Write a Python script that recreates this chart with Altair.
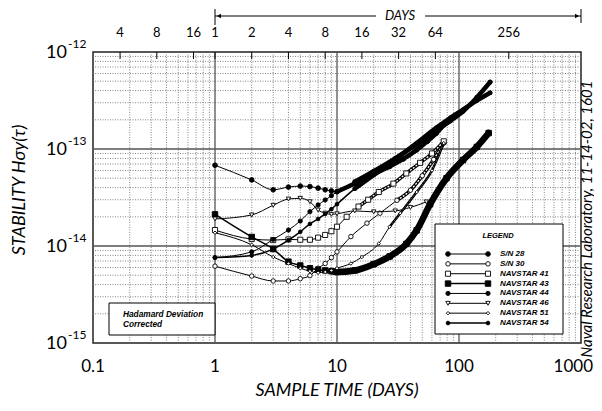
import altair as alt
import pandas as pd

# ---------------- data ----------------
SERIES = ["S/N 28", "S/N 30", "NAVSTAR 41", "NAVSTAR 43",
          "NAVSTAR 44", "NAVSTAR 46", "NAVSTAR 51", "NAVSTAR 54"]

SN28_TAU = [1, 2, 3, 4, 5, 6, 7, 8, 9, 10, 14, 20, 27, 35, 45, 55, 65, 75]
SN28_VAL = [6.8e-14, 4.8e-14, 3.8e-14, 4.05e-14, 4.15e-14, 4.1e-14, 3.95e-14, 3.8e-14, 3.7e-14,
            3.63e-14, 4.4e-14, 5.5e-14, 6.6e-14, 7.9e-14, 9.8e-14, 1.2e-13, 1.45e-13, 1.77e-13]

SN30_TAU = [1, 2, 3, 4, 5, 6, 7, 8, 9, 10, 13, 17.6, 22.5, 31, 40, 50, 62, 75]
SN30_VAL = [6.2e-15, 4.9e-15, 4.36e-15, 4.36e-15, 4.6e-15, 4.95e-15, 5.9e-15, 6.6e-15, 7.6e-15,
            8.7e-15, 1.25e-14, 1.72e-14, 2.18e-14, 2.96e-14, 3.76e-14, 5.3e-14, 7.8e-14, 1.15e-13]

N41_TAU = [1, 2, 3, 4, 5, 6, 7, 8, 9, 10, 12, 15, 18, 22, 29, 37, 48, 60, 75]
N41_VAL = [1.46e-14, 1.18e-14, 1.15e-14, 1.17e-14, 1.16e-14, 1.16e-14, 1.22e-14, 1.3e-14, 1.42e-14,
           1.58e-14, 2.0e-14, 2.55e-14, 3.0e-14, 3.6e-14, 4.4e-14, 5.6e-14, 7.2e-14, 9.0e-14, 1.2e-13]

N43_TAU = [1, 2, 3, 4, 5, 6, 7, 8, 9, 10, 14, 20, 27, 37, 45, 58, 79, 108, 140, 175]
N43_VAL = [2.12e-14, 1.24e-14, 9.3e-15, 6.9e-15, 6.3e-15, 5.9e-15, 5.7e-15, 5.6e-15, 5.5e-15,
           5.4e-15, 5.6e-15, 6.5e-15, 7.8e-15, 1.05e-14, 1.45e-14, 2.7e-14, 5.0e-14, 7.7e-14,
           1.05e-13, 1.46e-13]

N44_TAU = [1, 2, 3, 4, 5, 6, 7, 8, 9, 10, 14, 20, 30, 45, 65, 85, 108, 140, 180]
N44_VAL = [7.6e-15, 8.7e-15, 1.17e-14, 1.46e-14, 1.81e-14, 2.26e-14, 2.65e-14, 2.98e-14, 3.3e-14,
           3.63e-14, 4.6e-14, 5.9e-14, 8.0e-14, 1.12e-13, 1.55e-13, 1.95e-13, 2.45e-13, 3.4e-13, 4.9e-13]

N46_TAU = [1, 2, 3, 4, 5, 6, 7, 8, 9, 10, 14, 20, 30, 40, 54]
N46_VAL = [1.9e-14, 2.09e-14, 2.63e-14, 3.05e-14, 3.1e-14, 2.86e-14, 2.35e-14, 2.18e-14, 2.12e-14,
           2.15e-14, 2.3e-14, 2.25e-14, 2.3e-14, 2.5e-14, 2.85e-14]

N51_TAU = [1, 2, 3, 4, 5, 6, 7, 8, 9, 10, 13, 16, 22, 27, 33, 45, 60, 75]
N51_VAL = [1.37e-14, 1.03e-14, 7.7e-15, 6.6e-15, 5.9e-15, 5.5e-15, 5.3e-15, 5.4e-15, 5.6e-15,
           5.9e-15, 6.6e-15, 7.7e-15, 1.06e-14, 1.58e-14, 2.18e-14, 3.6e-14, 6.0e-14, 1.15e-13]

N54_TAU = [1, 2, 3, 4, 5, 6, 7, 8, 9, 10, 14, 20, 30, 45, 65, 85, 108, 140, 180]
N54_VAL = [7.6e-15, 8.0e-15, 9.3e-15, 1.15e-14, 1.4e-14, 1.69e-14, 1.9e-14, 2.14e-14, 2.4e-14,
           2.7e-14, 3.9e-14, 5.4e-14, 7.8e-14, 1.15e-13, 1.65e-13, 2.1e-13, 2.55e-13, 3.15e-13, 3.8e-13]

DATA = {
    "S/N 28": (SN28_TAU, SN28_VAL), "S/N 30": (SN30_TAU, SN30_VAL),
    "NAVSTAR 41": (N41_TAU, N41_VAL), "NAVSTAR 43": (N43_TAU, N43_VAL),
    "NAVSTAR 44": (N44_TAU, N44_VAL), "NAVSTAR 46": (N46_TAU, N46_VAL),
    "NAVSTAR 51": (N51_TAU, N51_VAL), "NAVSTAR 54": (N54_TAU, N54_VAL),
}

X_TICKS = [0.1, 1, 10, 100, 1000]
X_TICK_LABELS = ["0.1", "1", "10", "100", "1000"]
Y_TICKS = [1e-12, 1e-13, 1e-14, 1e-15]
Y_EXPONENTS = ["-12", "-13", "-14", "-15"]
TOP_DAYS = [4 / 24, 8 / 24, 16 / 24, 1, 2, 4, 8, 16, 32, 64, 256]
TOP_LABELS = ["4", "8", "16", "1", "2", "4", "8", "16", "32", "64", "256"]

# ---------------- styles ----------------
FONT = "Lato"
STYLE = {
    "S/N 28":     dict(shape="circle", fill="black", size=22, tail=10, tw=4.5, open=False, lw=1),
    "S/N 30":     dict(shape="circle", fill="white", size=20, tail=25, tw=3.5, open=True, lw=1),
    "NAVSTAR 41": dict(shape="square", fill="white", size=26, tail=14, tw=3.5, open=True, lw=1),
    "NAVSTAR 43": dict(shape="square", fill="black", size=30, tail=9, tw=6.5, open=False, lw=1.5),
    "NAVSTAR 44": dict(shape="circle", fill="black", size=18, tail=14, tw=4.5, open=False, lw=1),
    "NAVSTAR 46": dict(shape="triangle-down", fill="white", size=20, tail=99, tw=1, open=True, lw=1),
    "NAVSTAR 51": dict(shape="diamond", fill="white", size=12, tail=27, tw=2.5, open=True, lw=1),
    "NAVSTAR 54": dict(shape="circle", fill="black", size=14, tail=14, tw=4.5, open=False, lw=1.5),
}

W, H = 488, 291
xs = alt.Scale(type="log", domain=[0.1, 1000], nice=False)
ys = alt.Scale(type="log", domain=[1e-15, 1e-12], nice=False)


def X(f):
    return alt.X(f, type="quantitative", scale=xs, axis=None)


def Y(f):
    return alt.Y(f, type="quantitative", scale=ys, axis=None)


one = pd.DataFrame({"k": [0]})
layers = []

# grid
minor_x = [m * 10.0 ** e for e in (-1, 0, 1, 2) for m in range(2, 10)]
minor_y = [m * 10.0 ** e for e in (-15, -14, -13) for m in range(2, 10)]
layers.append(alt.Chart(pd.DataFrame({"v": minor_x})).mark_rule(
    color="#666", strokeWidth=0.8, strokeDash=[1, 1.5]).encode(x=X("v")))
layers.append(alt.Chart(pd.DataFrame({"v": minor_y})).mark_rule(
    color="#666", strokeWidth=0.8, strokeDash=[1, 1.5]).encode(y=Y("v")))
layers.append(alt.Chart(pd.DataFrame({"v": [1, 10, 100]})).mark_rule(
    color="#555", strokeWidth=1.3).encode(x=X("v")))
layers.append(alt.Chart(pd.DataFrame({"v": [1e-14, 1e-13]})).mark_rule(
    color="#555", strokeWidth=1.3).encode(y=Y("v")))

# series
for name in SERIES:
    tau, val = DATA[name]
    st = STYLE[name]
    df = pd.DataFrame({"tau": tau, "val": val})
    tail = df[df["tau"] >= st["tail"]]
    layers.append(alt.Chart(df).mark_line(color="black", strokeWidth=st["lw"],
                                          interpolate="monotone", clip=True)
                  .encode(x=X("tau"), y=Y("val")))
    if len(tail) > 1:
        layers.append(alt.Chart(tail).mark_line(color="black", strokeWidth=st["tw"],
                                                interpolate="monotone", clip=True,
                                                strokeCap="round")
                      .encode(x=X("tau"), y=Y("val")))
        if st["open"]:
            layers.append(alt.Chart(tail).mark_line(color="white", strokeWidth=st["tw"] - 2.2,
                                                    interpolate="monotone", clip=True,
                                                    strokeDash=[2, 1.5])
                          .encode(x=X("tau"), y=Y("val")))
    layers.append(alt.Chart(df).mark_point(shape=st["shape"], filled=True, fill=st["fill"],
                                           stroke="black", strokeWidth=0.9, size=st["size"],
                                           opacity=1, clip=True)
                  .encode(x=X("tau"), y=Y("val")))

# Hadamard box
layers.append(alt.Chart(one).mark_rect(fill="white", stroke="black", strokeWidth=1).encode(
    x=alt.value(16), x2=alt.value(122), y=alt.value(251), y2=alt.value(283)))
layers.append(alt.Chart(pd.DataFrame({"t": ["Hadamard Deviation", "Corrected"], "i": [0, 1]}))
              .transform_calculate(py="263 + 9.5*datum.i")
              .mark_text(align="left", baseline="middle", font="Liberation Sans", fontSize=8.3,
                         fontWeight="bold", fontStyle="italic")
              .encode(x=alt.value(30), y=alt.Y("py:Q", scale=None, axis=None), text="t:N"))

# legend box
layers.append(alt.Chart(one).mark_rect(fill="white", stroke="black", strokeWidth=1).encode(
    x=alt.value(342), x2=alt.value(470), y=alt.value(172), y2=alt.value(282)))
layers.append(alt.Chart(one).mark_text(font="Liberation Sans", fontSize=7.5, fontWeight="bold",
                                       fontStyle="italic").encode(
    x=alt.value(405), y=alt.value(184), text=alt.value("LEGEND")))
leg = pd.DataFrame({
    "label": SERIES,
    "i": list(range(len(SERIES))),
    "shape": [STYLE[s]["shape"] for s in SERIES],
    "fill": [STYLE[s]["fill"] for s in SERIES],
    "size": [STYLE[s]["size"] for s in SERIES],
    "lw": [STYLE[s]["lw"] for s in SERIES],
})
legbase = alt.Chart(leg).transform_calculate(ly="202 + 9.86*datum.i")
LY = alt.Y("ly:Q", scale=None, axis=None)
layers.append(legbase.mark_rule(color="black").encode(
    x=alt.value(355), x2=alt.value(395), y=LY,
    strokeWidth=alt.StrokeWidth("lw:Q", scale=None, legend=None)))
for xp in (355, 395):
    layers.append(legbase.mark_point(filled=True, stroke="black", strokeWidth=0.9, opacity=1).encode(
        x=alt.value(xp), y=LY,
        shape=alt.Shape("shape:N", scale=None, legend=None),
        fill=alt.Fill("fill:N", scale=None, legend=None),
        size=alt.Size("size:Q", scale=None, legend=None)))
layers.append(legbase.mark_text(align="left", baseline="middle", font="Liberation Sans",
                                fontSize=8, fontWeight="bold", fontStyle="italic").encode(
    x=alt.value(407), y=LY, text="label:N"))

# bottom tick labels (last one kept inside the page edge)
bdf = pd.DataFrame({"v": X_TICKS, "t": X_TICK_LABELS})
layers.append(alt.Chart(bdf[bdf["v"] < 1000]).mark_text(
    font=FONT, fontSize=17, baseline="middle").encode(x=X("v"), y=alt.value(H + 24), text="t:N"))
layers.append(alt.Chart(bdf[bdf["v"] >= 1000]).mark_text(
    font=FONT, fontSize=17, baseline="middle", align="right", dx=12).encode(
    x=X("v"), y=alt.value(H + 24), text="t:N"))
# y tick labels "10" + superscript
ydf = pd.DataFrame({"v": Y_TICKS, "e": Y_EXPONENTS})
layers.append(alt.Chart(ydf).mark_text(font=FONT, fontSize=18, align="right", baseline="middle",
                                       dy=1).encode(x=alt.value(-26), y=Y("v"), text=alt.value("10")))
layers.append(alt.Chart(ydf).mark_text(font=FONT, fontSize=12, align="left", baseline="middle",
                                       dy=-8).encode(x=alt.value(-25), y=Y("v"), text="e:N"))

# top axis (days)
tdf = pd.DataFrame({"v": TOP_DAYS, "t": TOP_LABELS})
layers.append(alt.Chart(tdf).mark_rule(color="black", strokeWidth=1).encode(
    x=X("v"), y=alt.value(0), y2=alt.value(7)))
layers.append(alt.Chart(tdf).mark_text(font=FONT, fontSize=13, baseline="middle").encode(
    x=X("v"), y=alt.value(-19), text="t:N"))
# DAYS arrow
layers.append(alt.Chart(one).mark_rule(color="black", strokeWidth=1).encode(
    x=alt.value(122), x2=alt.value(283), y=alt.value(-36)))
layers.append(alt.Chart(one).mark_rule(color="black", strokeWidth=1).encode(
    x=alt.value(332), x2=alt.value(488), y=alt.value(-36)))
layers.append(alt.Chart(one).mark_rule(color="black", strokeWidth=1).encode(
    x=alt.value(122), y=alt.value(-43), y2=alt.value(-27)))
layers.append(alt.Chart(one).mark_rule(color="black", strokeWidth=1).encode(
    x=alt.value(488), y=alt.value(-43), y2=alt.value(-29)))
layers.append(alt.Chart(one).mark_point(shape="triangle-left", filled=True, color="black",
                                        size=22, opacity=1).encode(x=alt.value(126), y=alt.value(-36)))
layers.append(alt.Chart(one).mark_point(shape="triangle-right", filled=True, color="black",
                                        size=22, opacity=1).encode(x=alt.value(484), y=alt.value(-36)))
layers.append(alt.Chart(one).mark_text(font=FONT, fontSize=13, fontStyle="italic",
                                       baseline="middle").encode(
    x=alt.value(307), y=alt.value(-36), text=alt.value("DAYS")))

# titles
layers.append(alt.Chart(one).mark_text(font=FONT, fontSize=18, fontStyle="italic",
                                       baseline="middle").encode(
    x=alt.value(244), y=alt.value(339), text=alt.value("SAMPLE TIME (DAYS)")))
layers.append(alt.Chart(one).mark_text(font=FONT, fontSize=18, fontStyle="italic",
                                       baseline="middle", angle=270).encode(
    x=alt.value(-73), y=alt.value(138), text=alt.value("STABILITY   Hσy(τ)")))
layers.append(alt.Chart(one).mark_text(font=FONT, fontSize=15, fontStyle="italic",
                                       baseline="middle", angle=270).encode(
    x=alt.value(494), y=alt.value(167),
    text=alt.value("Naval Research Laboratory, 11-14-02, 1601")))

chart = alt.layer(*layers).properties(
    width=W, height=H,
    autosize=alt.AutoSizeParams(type="none"),
    padding={"left": 85, "top": 44, "right": 13, "bottom": 60},
).configure_view(stroke="#222", strokeWidth=1.5)

chart.save("out.html", embed_options={"renderer": "svg", "actions": False})
